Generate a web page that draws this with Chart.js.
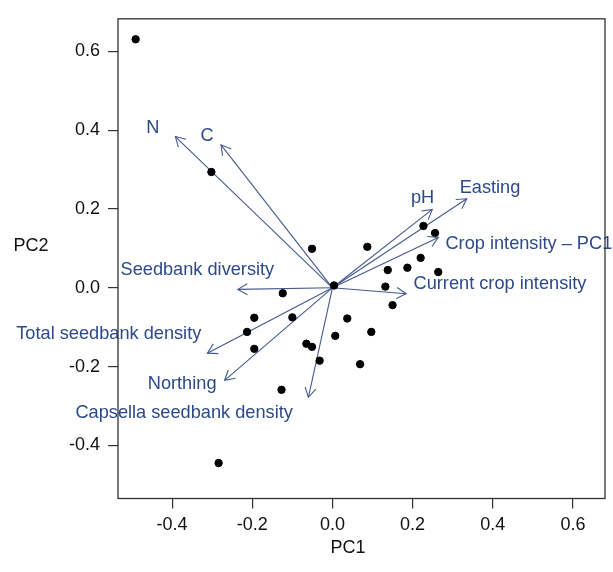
<!DOCTYPE html>
<html lang="en">
<head>
<meta charset="UTF-8">
<title>PCA biplot</title>
<script src="https://cdn.jsdelivr.net/npm/chart.js"></script>
<style>
    html, body { margin: 0; padding: 0; background: #fff; }
    .wrap { width: 613px; height: 572px; }
</style>
</head>
<body>
<div class="wrap"><canvas id="biplot"></canvas></div>
<script>
// site scores (PC1, PC2)
const scoreX = [-0.491, -0.302, -0.051, -0.124, 0.004, 0.087, 0.227, 0.256, 0.220, 0.187, 0.138, 0.264, 0.132, 0.150,
    -0.195, -0.100, 0.037, -0.213, 0.007, 0.097, -0.195, -0.065, -0.051, -0.032, 0.069, -0.127, -0.284];
const scoreY = [0.631, 0.294, 0.099, -0.014, 0.006, 0.104, 0.157, 0.139, 0.076, 0.051, 0.045, 0.040, 0.003, -0.044,
    -0.076, -0.075, -0.078, -0.112, -0.122, -0.112, -0.155, -0.142, -0.150, -0.185, -0.194, -0.259, -0.445];

// variable loadings (arrow tips) and where their names sit
const varNames = ["N", "C", "Seedbank diversity", "pH", "Easting", "Crop intensity \u2013 PC1",
    "Current crop intensity", "Total seedbank density", "Northing", "Capsella seedbank density"];
const loadX = [-0.392, -0.278, -0.236, 0.249, 0.335, 0.264, 0.184, -0.312, -0.269, -0.060];
const loadY = [0.384, 0.363, -0.004, 0.199, 0.226, 0.128, -0.015, -0.166, -0.235, -0.278];
const labelX = [-0.448, -0.313, -0.337, 0.225, 0.393, 0.490, 0.418, -0.558, -0.375, -0.370];
const labelY = [0.407, 0.386, 0.044, 0.228, 0.254, 0.111, 0.009, -0.117, -0.245, -0.318];

const tickVals = [-0.4, -0.2, 0.0, 0.2, 0.4, 0.6];

const arrowColor = "#45598f";
const labelColor = "#2c4a8a";
const font = "'Liberation Sans', Arial, sans-serif";

let datasets = [{
    type: "scatter",
    data: scoreX.map((x, i) => ({ x: x, y: scoreY[i] })),
    backgroundColor: "#000",
    borderColor: "#000",
    pointRadius: 3.7,
    order: 0
}];
varNames.forEach((name, i) => {
    datasets.push({
        type: "line",
        label: name,
        data: [{ x: 0, y: 0 }, { x: loadX[i], y: loadY[i] }],
        borderColor: arrowColor,
        borderWidth: 1.1,
        pointRadius: 0,
        showLine: true,
        fill: false,
        order: 1
    });
});

const biplotExtras = {
    id: "biplotExtras",
    afterDatasetsDraw(chart) {
        const ctx = chart.ctx;
        const xs = chart.scales.x, ys = chart.scales.y;
        const x0 = xs.getPixelForValue(0), y0 = ys.getPixelForValue(0);
        ctx.save();
        // arrow heads
        ctx.strokeStyle = arrowColor;
        ctx.lineWidth = 1.1;
        varNames.forEach((name, i) => {
            const tx = xs.getPixelForValue(loadX[i]), ty = ys.getPixelForValue(loadY[i]);
            const ang = Math.atan2(ty - y0, tx - x0);
            const len = 11, spread = Math.PI / 6;
            ctx.beginPath();
            ctx.moveTo(tx - len * Math.cos(ang - spread), ty - len * Math.sin(ang - spread));
            ctx.lineTo(tx, ty);
            ctx.lineTo(tx - len * Math.cos(ang + spread), ty - len * Math.sin(ang + spread));
            ctx.stroke();
        });
        // variable names
        ctx.fillStyle = labelColor;
        ctx.font = "18.2px " + font;
        ctx.textAlign = "center";
        ctx.textBaseline = "middle";
        varNames.forEach((name, i) => {
            ctx.fillText(name, xs.getPixelForValue(labelX[i]), ys.getPixelForValue(labelY[i]));
        });
        // box round the plot
        const a = chart.chartArea;
        ctx.strokeStyle = "#333";
        ctx.lineWidth = 1.3;
        ctx.strokeRect(a.left, a.top, a.right - a.left, a.bottom - a.top);
        // axis titles
        ctx.fillStyle = "#111";
        ctx.font = "18px " + font;
        ctx.fillText("PC1", 348, 548);
        ctx.fillText("PC2", 31, 246);
        ctx.restore();
    }
};

const axisCommon = {
    type: "linear",
    min: -0.535,
    afterBuildTicks: scale => { scale.ticks = tickVals.map(v => ({ value: v })); },
    grid: { drawOnChartArea: false, drawTicks: true, tickLength: 10, color: "#333", lineWidth: 1.2 },
    border: { display: false },
    ticks: {
        color: "#111",
        font: { size: 18, family: font },
        callback: v => v.toFixed(1)
    }
};

new Chart(document.getElementById("biplot"), {
    data: { datasets: datasets },
    options: {
        responsive: true,
        maintainAspectRatio: false,
        animation: false,
        layout: { padding: { left: 0, top: 14, right: 8, bottom: 0 } },
        plugins: { legend: { display: false }, tooltip: { enabled: false } },
        scales: {
            x: Object.assign({}, axisCommon, {
                position: "bottom",
                max: 0.68,
                ticks: Object.assign({}, axisCommon.ticks, { padding: 6, maxRotation: 0 }),
                afterFit: scale => { scale.height = 73.5; }
            }),
            y: Object.assign({}, axisCommon, {
                position: "left",
                max: 0.683,
                ticks: Object.assign({}, axisCommon.ticks, { padding: 8 }),
                afterFit: scale => { scale.width = 118; }
            })
        }
    },
    plugins: [biplotExtras]
});
</script>
</body>
</html>
